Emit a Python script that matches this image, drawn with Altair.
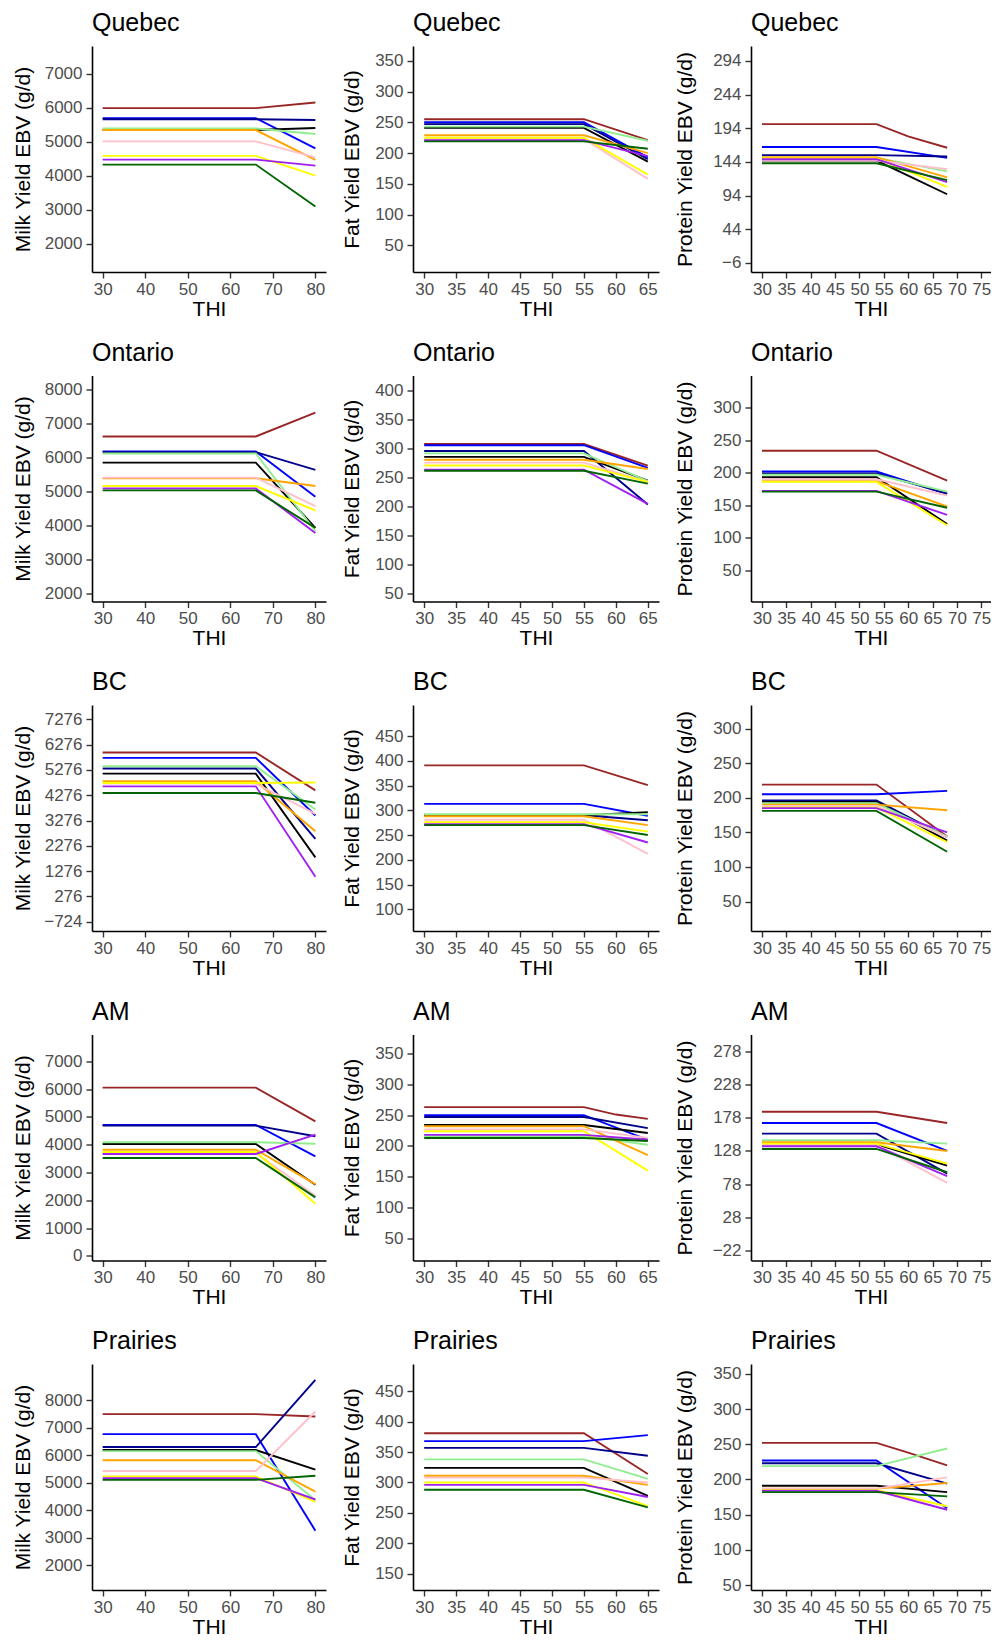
import altair as alt
import pandas as pd

# ---------------- data ----------------
series = ["brown", "blue", "navy", "black", "lightgreen", "orange", "pink", "yellow", "purple", "darkgreen"]
series_colors = ["#992626", "#0000FF", "#00008B", "#000000", "#90EE90", "#FFA500", "#FFC0CB", "#FFFF00", "#A020F0", "#006400"]

regions = ["Quebec", "Ontario", "BC", "AM", "Prairies"]

milk_x = [30, 66, 80]
fat_x = [30, 55, 65]
prot_x = [30, 53.5, 68]

# flat level (THI 30 .. breakpoint) and value at the last THI, per series (order as `series`)
quebec_milk_flat = [5986, 5690, 5660, 5340, 5385, 5340, 5008, 4580, 4471, 4325]
quebec_milk_end = [6150, 4800, 5635, 5400, 5224, 4463, 4539, 4003, 4296, 3094]
quebec_fat_flat = [255, 250, 247, 241, 243, 229, 223, 225, 221, 219]
quebec_fat_end = [221, 193, 190, 186, 220, 200, 158, 165, 195, 207]
quebec_prot_flat = [200, 166, 154, 146, 150, 151, 146, 149, 148, 142]
quebec_prot_end = [165, 150, 152, 96, 130, 121, 133, 107, 114, 117]

ontario_milk_flat = [6631, 6188, 6170, 5863, 6130, 5400, 5420, 5174, 5104, 5044]
ontario_milk_end = [7331, 4858, 5647, 3942, 3850, 5174, 4583, 4453, 3794, 3942]
ontario_fat_flat = [308, 306, 296, 286, 292, 281, 276, 271, 264, 262]
ontario_fat_end = [271, 267, 204, 245, 244, 265, 243, 243, 205, 240]
ontario_prot_flat = [234, 202, 199, 193, 197, 187, 190, 186, 172, 171]
ontario_prot_end = [188, 167, 168, 121, 171, 148, 165, 119, 135, 146]

bc_milk_flat = [5965, 5753, 5330, 5130, 5422, 4826, 4733, 4760, 4627, 4362]
bc_milk_end = [4468, 3475, 2547, 1819, 3713, 2852, 3540, 4780, 1050, 3978]
bc_fat_flat = [391, 313, 290, 290, 292, 288, 281, 276, 272, 270]
bc_fat_end = [351, 289, 280, 296, 292, 270, 212, 257, 235, 250]
bc_prot_flat = [219, 205, 196, 194, 192, 190, 188, 186, 185, 181]
bc_prot_end = [144, 210, 143, 138, 144, 182, 143, 136, 150, 122]

am_milk_flat = [6051, 4707, 4683, 4022, 4083, 3818, 3700, 3734, 3662, 3518]
am_milk_end = [4839, 3578, 4300, 2557, 4034, 2580, 2161, 1873, 4359, 2101]
am_fat_flat = [263, 250, 247, 234, 216, 232, 227, 224, 218, 213]
am_fat_end = [244, 210, 229, 221, 202, 185, 213, 160, 210, 208]
am_prot_flat = [187, 170, 154, 138, 144, 141, 137, 139, 135, 131]
am_prot_end = [170, 128, 94, 106, 139, 128, 80, 109, 90, 96]

prairies_milk_flat = [7495, 6768, 6300, 6189, 6152, 5820, 5425, 5228, 5166, 5105]
prairies_milk_end = [7409, 3257, 8739, 5474, 4366, 4674, 7593, 4304, 4390, 5253]
prairies_fat_flat = [381, 368, 357, 324, 338, 311, 308, 300, 296, 288]
prairies_fat_end = [314, 378, 344, 278, 306, 296, 300, 261, 276, 259]
prairies_prot_flat = [252, 227, 223, 191, 219, 187, 187, 185, 184, 182]
prairies_prot_end = [220, 159, 194, 182, 244, 195, 203, 162, 157, 176]

# visible kinks between breakpoint and end: (region, trait, series) -> (THI, value)
kinks = {
    ("Quebec", "prot", "brown"): (60, 182),
    ("Prairies", "prot", "brown"): (60, 238),
    ("AM", "fat", "brown"): (60, 251),
}

# axis ticks
milk_ticks = {
    "Quebec": [2000, 3000, 4000, 5000, 6000, 7000],
    "Ontario": [2000, 3000, 4000, 5000, 6000, 7000, 8000],
    "BC": [-724, 276, 1276, 2276, 3276, 4276, 5276, 6276, 7276],
    "AM": [0, 1000, 2000, 3000, 4000, 5000, 6000, 7000],
    "Prairies": [2000, 3000, 4000, 5000, 6000, 7000, 8000],
}
fat_ticks = {
    "Quebec": [50, 100, 150, 200, 250, 300, 350],
    "Ontario": [50, 100, 150, 200, 250, 300, 350, 400],
    "BC": [100, 150, 200, 250, 300, 350, 400, 450],
    "AM": [50, 100, 150, 200, 250, 300, 350],
    "Prairies": [150, 200, 250, 300, 350, 400, 450],
}
prot_ticks = {
    "Quebec": [-6, 44, 94, 144, 194, 244, 294],
    "Ontario": [50, 100, 150, 200, 250, 300],
    "BC": [50, 100, 150, 200, 250, 300],
    "AM": [-22, 28, 78, 128, 178, 228, 278],
    "Prairies": [50, 100, 150, 200, 250, 300, 350],
}
milk_xticks = [30, 40, 50, 60, 70, 80]
fat_xticks = [30, 35, 40, 45, 50, 55, 60, 65]
prot_xticks = [30, 35, 40, 45, 50, 55, 60, 65, 70, 75]

milk_ydom = {"Quebec": [1168, 7811], "Ontario": [1775, 8426], "BC": [-1094, 7844], "AM": [-169, 7962], "Prairies": [1098, 9320]}
fat_ydom = {"Quebec": [6.7, 374], "Ontario": [37, 426], "BC": [56, 513], "AM": [14, 381], "Prairies": [123, 495]}
prot_ydom = {"Quebec": [-19.4, 316], "Ontario": [1.5, 350], "BC": [7.5, 334], "AM": [-36.6, 303], "Prairies": [43, 364]}

values = {
    ("Quebec", "milk"): (quebec_milk_flat, quebec_milk_end),
    ("Quebec", "fat"): (quebec_fat_flat, quebec_fat_end),
    ("Quebec", "prot"): (quebec_prot_flat, quebec_prot_end),
    ("Ontario", "milk"): (ontario_milk_flat, ontario_milk_end),
    ("Ontario", "fat"): (ontario_fat_flat, ontario_fat_end),
    ("Ontario", "prot"): (ontario_prot_flat, ontario_prot_end),
    ("BC", "milk"): (bc_milk_flat, bc_milk_end),
    ("BC", "fat"): (bc_fat_flat, bc_fat_end),
    ("BC", "prot"): (bc_prot_flat, bc_prot_end),
    ("AM", "milk"): (am_milk_flat, am_milk_end),
    ("AM", "fat"): (am_fat_flat, am_fat_end),
    ("AM", "prot"): (am_prot_flat, am_prot_end),
    ("Prairies", "milk"): (prairies_milk_flat, prairies_milk_end),
    ("Prairies", "fat"): (prairies_fat_flat, prairies_fat_end),
    ("Prairies", "prot"): (prairies_prot_flat, prairies_prot_end),
}

FONT = "Liberation Sans"

trait_cfg = {
    "milk": dict(x=milk_x, xt=milk_xticks, xdom=[27.5, 82.5], title="Milk Yield EBV (g/d)",
                 ticks=milk_ticks, ydom=milk_ydom, w=234, ext=49),
    "fat": dict(x=fat_x, xt=fat_xticks, xdom=[28.25, 66.75], title="Fat Yield EBV (g/d)",
                ticks=fat_ticks, ydom=fat_ydom, w=246, ext=41),
    "prot": dict(x=prot_x, xt=prot_xticks, xdom=[27.75, 77.0], title="Protein Yield EBV (g/d)",
                 ticks=prot_ticks, ydom=prot_ydom, w=240, ext=46),
}


def panel(region, trait):
    cfg = trait_cfg[trait]
    flat, end = values[(region, trait)]
    rows = []
    for s, f, e in zip(series, flat, end):
        pts = [(cfg["x"][0], f), (cfg["x"][1], f)]
        if (region, trait, s) in kinks:
            pts.append(kinks[(region, trait, s)])
        pts.append((cfg["x"][2], e))
        for i, (xx, yy) in enumerate(pts):
            rows.append({"series": s, "x": xx, "y": yy, "i": i})
    df = pd.DataFrame(rows)
    return alt.Chart(df).mark_line(strokeWidth=1.9, clip=True).encode(
        x=alt.X("x:Q", scale=alt.Scale(domain=cfg["xdom"], nice=False, zero=False),
                axis=alt.Axis(values=cfg["xt"], title="THI", format="d", labelPadding=3, titlePadding=1)),
        y=alt.Y("y:Q", scale=alt.Scale(domain=cfg["ydom"][region], nice=False, zero=False),
                axis=alt.Axis(values=cfg["ticks"][region], title=cfg["title"], format="d",
                              minExtent=cfg["ext"], maxExtent=cfg["ext"], titlePadding=10)),
        color=alt.Color("series:N", scale=alt.Scale(domain=series, range=series_colors), legend=None),
        order=alt.Order("i:Q"),
    ).properties(
        width=cfg["w"], height=226,
        title=alt.TitleParams(region, anchor="start", frame="group", offset=-10,
                              font=FONT, fontSize=25, fontWeight="normal", color="black",
                              baseline="alphabetic"),
    )


rows_charts = []
for reg in regions:
    rows_charts.append(alt.hconcat(panel(reg, "milk"), panel(reg, "fat"), panel(reg, "prot"), spacing=15))

chart = alt.vconcat(*rows_charts, spacing=21.5,
                    padding={"left": 4, "top": 3, "right": 0, "bottom": 0},
                    background="white").configure_view(
    stroke=None
).configure_axis(
    grid=False,
    domainColor="black", domainWidth=1.6,
    tickColor="#333333", tickWidth=1.4, tickSize=6,
    labelColor="#4D4D4D", labelFont=FONT, labelFontSize=17, labelPadding=4,
    titleFont=FONT, titleFontSize=21, titleFontWeight="normal", titleColor="black",
)

chart.save("out.html", embed_options={"renderer": "svg", "actions": False})
